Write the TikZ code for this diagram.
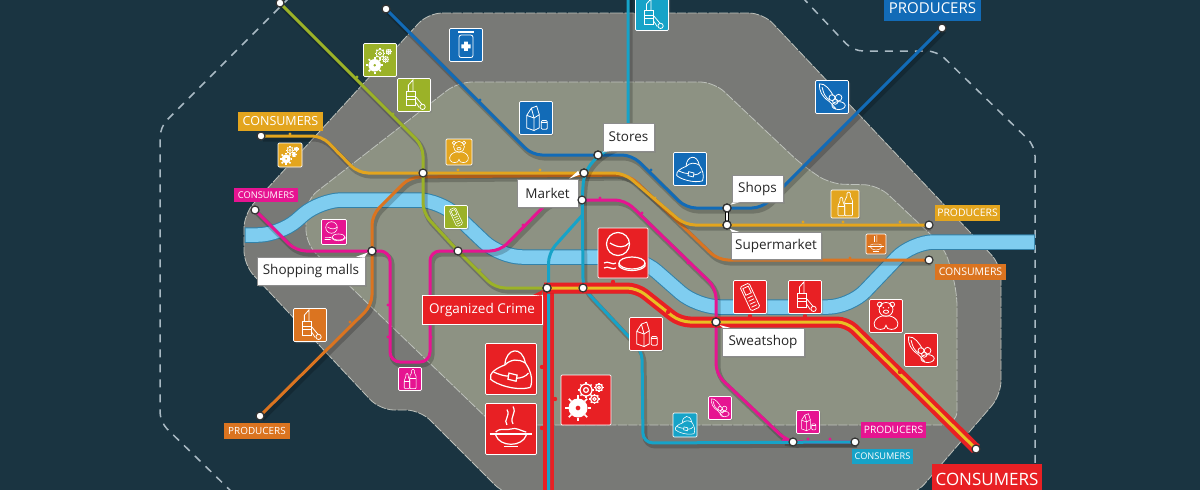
\documentclass[tikz,border=0pt]{standalone}
\usepackage{fontspec}
\setmainfont{Open Sans}
\usetikzlibrary{shadows}

\definecolor{night}{RGB}{26,52,65}
\definecolor{outerzone}{RGB}{120,121,118}
\definecolor{innerzone}{RGB}{141,146,131}
\definecolor{zoneedge}{RGB}{190,194,188}
\definecolor{fence}{RGB}{170,186,196}
\definecolor{river}{RGB}{127,205,240}
\definecolor{riveredge}{RGB}{50,130,170}
\definecolor{olive}{RGB}{155,178,40}
\definecolor{navy}{RGB}{18,107,183}
\definecolor{amber}{RGB}{227,165,30}
\definecolor{rust}{RGB}{219,116,32}
\definecolor{pink}{RGB}{230,20,145}
\definecolor{aqua}{RGB}{22,163,200}
\definecolor{crime}{RGB}{232,32,36}
\definecolor{gold}{RGB}{232,192,36}

\newcommand{\gearwheel}[3]{
  \draw (#1,#2) circle (#3) (#1,#2) circle (.4*#3);
  \foreach \a in {0,45,...,315} \draw[line width=1.4pt] (#1,#2) ++(\a:#3) -- ++(\a:.3*#3);
}
\newcommand{\bottleshape}[4]{
  \draw[rounded corners=1pt] (#1-#3,.42) -- (#1-#3,#2+.3) -- (#1-.4*#3,#2+.14) -- (#1-.4*#3,#2) -- (#1+.4*#3,#2)
    -- (#1+.4*#3,#2+.14) -- (#1+#3,#2+.3) -- (#1+#3,.42) -- cycle;
  \draw (#1-#3,#4) -- (#1+#3,#4);
}

\tikzset{
  metro/.style={line width=3pt,rounded corners=10pt,line join=round,
    preaction={draw=black,opacity=.2,line width=5pt,transform canvas={xshift=2pt,yshift=-3pt}}},
  station/.style={circle,fill=white,draw=black!80,line width=1.2pt,minimum size=8pt,inner sep=0pt},
  iconbox/.style={rounded corners=1.2pt,draw=white!75,line width=.7pt,inner sep=0pt,
    drop shadow={shadow xshift=1.5pt,shadow yshift=-1.5pt,opacity=.4}},
  callout/.style={fill=white,draw=black!45,line width=.5pt,inner sep=0pt,text=black!85,
    font=\fontsize{13.5}{16}\selectfont,drop shadow={shadow xshift=1.5pt,shadow yshift=-1.5pt,opacity=.35}},
  tag/.style={fill=#1,text=white,inner sep=0pt},
  pics/gears/.style={code={
    \fill[even odd rule] (-.16,.16) circle (.19) (-.16,.16) circle (.05);
    \foreach \a in {0,45,...,315} \draw[line width=1.6pt] (-.16,.16) ++(\a:.19) -- ++(\a:.07);
    \gearwheel{.0}{-.2}{.12}
    \gearwheel{.17}{-.02}{.08}
    \gearwheel{.26}{-.25}{.07}
  }},
  pics/lipstick/.style={code={
    \draw (-.24,-.1) rectangle (.04,.32);
    \draw (-.24,.04) -- (.04,.04) (-.24,.14) -- (.04,.14);
    \draw (-.17,-.1) -- (-.17,-.3) -- (-.03,-.46) -- (-.03,-.1);
    \draw (.04,.04) -- (.24,.28) (.04,.2) -- (.16,.38);
    \draw (.26,.36) circle (.08);
  }},
  pics/jar/.style={code={
    \fill (-.24,-.42) rectangle (.24,-.35);
    \draw[rounded corners=2pt] (-.21,-.3) rectangle (.21,.38);
    \fill (-.14,-.02) rectangle (.14,.1) (-.06,-.1) rectangle (.06,.18);
  }},
  pics/carton/.style={code={
    \draw (-.28,-.08) -- (-.06,.0) -- (-.06,.38) -- (-.28,.3) -- cycle;
    \draw (-.06,0) -- (.1,-.1) -- (.1,.3) -- (-.06,.38);
    \draw (-.28,-.08) -- (-.14,-.3) -- (.02,-.36) -- (.1,-.1) (-.14,-.3) -- (-.06,0);
    \draw[rounded corners=1pt] (.16,.08) rectangle (.34,.34);
    \draw (.16,.14) -- (.34,.14);
  }},
  pics/teddy/.style={code={
    \draw (-.19,-.35) circle (.07) (.19,-.35) circle (.07);
    \draw (0,-.2) circle (.21);
    \draw (0,-.13) ellipse (.08 and .05);
    \fill (-.08,-.25) circle (.02) (.08,-.25) circle (.02);
    \draw (-.05,.38) .. controls (-.2,.45) and (-.38,.38) .. (-.36,.22) .. controls (-.34,.08) and (-.2,.02) .. (-.12,.0)
      -- (.12,.0) .. controls (.2,.02) and (.34,.08) .. (.36,.22) .. controls (.38,.38) and (.2,.45) .. (.05,.38) -- (0,.28) -- cycle;
  }},
  pics/bag/.style={code={
    \draw (-.12,-.08) .. controls (-.1,-.42) and (.22,-.46) .. (.28,-.12) .. controls (.38,.02) and (.44,.2) .. (.38,.36);
    \draw (-.12,-.08) .. controls (-.28,-.02) and (-.44,.08) .. (-.4,.2) .. controls (-.3,.3) and (.1,.44) .. (.38,.36);
    \draw (-.12,-.08) .. controls (0,-.2) and (.15,-.2) .. (.28,-.12);
    \draw (-.04,.08) -- (.12,.12) -- (.1,.24) -- (-.06,.2) -- cycle;
    \draw (-.34,.06) .. controls (-.2,.12) and (-.12,.14) .. (-.04,.14) (.12,.18) .. controls (.2,.18) and (.3,.14) .. (.34,.08);
  }},
  pics/phone/.style={code={
    \begin{scope}[rotate=25]
      \draw[rounded corners=1.5pt] (-.15,-.4) rectangle (.15,.4);
      \draw (-.09,-.32) rectangle (.09,-.1);
      \draw (-.09,.0) -- (.09,.0) (-.09,.1) -- (.09,.1) (-.09,.2) -- (.09,.2) (-.09,.3) -- (.09,.3);
    \end{scope}
  }},
  pics/bottles/.style={code={
    \bottleshape{-.13}{-.24}{.12}{.1}
    \bottleshape{.13}{-.42}{.14}{-.02}
  }},
  pics/shoe/.style={code={
    \draw (-.38,-.4) .. controls (-.2,-.42) and (-.05,-.2) .. (.04,-.04);
    \draw (-.38,-.4) .. controls (-.4,-.2) and (-.3,.0) .. (-.1,.12) .. controls (.0,.2) and (.05,.3) .. (.12,.36);
    \draw (-.3,-.3) .. controls (-.26,-.1) and (-.2,.02) .. (-.06,.1);
    \draw (.0,.02) circle (.09) (.2,.02) circle (.1) (.1,.14) circle (.08);
    \draw (.2,.26) ellipse (.2 and .12);
  }},
  pics/bowl/.style={code={
    \draw (-.42,.1) -- (.42,.1);
    \draw (-.3,.12) .. controls (-.22,.36) and (.22,.36) .. (.3,.12);
    \draw (-.14,.34) -- (.14,.34);
    \draw (-.3,.06) .. controls (-.2,-.04) and (-.1,.04) .. (0,.0) .. controls (.1,-.04) and (.2,.04) .. (.3,.06);
    \draw (-.08,-.08) .. controls (-.16,-.18) and (0,-.26) .. (-.08,-.38);
    \draw (.04,-.1) .. controls (-.04,-.24) and (.12,-.3) .. (.04,-.44);
  }},
  pics/compact/.style={code={
    \draw (-.1,-.18) circle (.23);
    \draw (-.26,-.2) .. controls (-.1,-.1) and (.04,-.1) .. (.12,-.2);
    \draw (.18,.2) ellipse (.26 and .12);
    \draw (-.08,.2) -- (-.08,.26) .. controls (0,.38) and (.36,.38) .. (.44,.26) -- (.44,.2);
    \draw (-.38,.2) .. controls (-.3,.14) and (-.2,.26) .. (-.14,.2);
    \draw (-.38,.3) .. controls (-.3,.24) and (-.2,.36) .. (-.14,.3);
  }}
}

\begin{document}
\begin{tikzpicture}[x=1pt,y=-1pt]
\useasboundingbox (0,0) rectangle (1200,490);
\clip (0,0) rectangle (1200,490);
\fill[night] (0,0) rectangle (1200,490);

% zones
\draw[fill=outerzone,draw=zoneedge,line width=.8pt,dash pattern=on 9pt off 1.5pt,rounded corners=14pt]
  (600,13) -- (763,13) -- (1001,265) -- (1001,395) -- (915,495) -- (505,495) -- (420,410) -- (380,410)
  -- (244,265) -- (244,214) -- (428,13) -- cycle;
\draw[fill=innerzone,draw=zoneedge,line width=.8pt,dash pattern=on 9pt off 1.5pt,rounded corners=14pt]
  (600,82) -- (714,82) -- (802,165) -- (830,184) -- (878,185) -- (945,248) -- (957,292) -- (957,425)
  -- (494,425) -- (306,244) -- (306,200) -- (458,82) -- cycle;

% fence
\draw[fence,line width=1.5pt,dash pattern=on 8pt off 7pt,rounded corners=10pt]
  (290,-3) -- (160,127) -- (160,422) -- (235,495);
\draw[fence,line width=1.5pt,dash pattern=on 8pt off 7pt,rounded corners=10pt]
  (802,-3) -- (853,51) -- (937,51) -- (1035,146) -- (1035,495);

% river
\draw[riveredge,line width=15.5pt,rounded corners=22pt,
  preaction={draw=black,opacity=.2,transform canvas={xshift=2pt,yshift=-3pt}}]
  (244.5,235) -- (280,235) -- (320,200) -- (440,200) -- (500,257) -- (640,257) -- (697,307) -- (850,307) -- (912,242) -- (1035,242);
\draw[river,line width=13.5pt,rounded corners=22pt]
  (245.5,235) -- (280,235) -- (320,200) -- (440,200) -- (500,257) -- (640,257) -- (697,307) -- (850,307) -- (912,242) -- (1034,242);

% station positions
\coordinate (cOlive) at (280,3);
\coordinate (cNavy) at (386,9);
\coordinate (cNavyEnd) at (942,28);
\coordinate (cAmber) at (261,136);
\coordinate (cPink) at (255,210);
\coordinate (cRust) at (260,416);
\coordinate (cOliveHub) at (423,173);
\coordinate (cMarket) at (584,173);
\coordinate (cStores) at (598,155);
\coordinate (cHub) at (582,200);
\coordinate (cShops) at (727,208);
\coordinate (cSuper) at (727,225);
\coordinate (cAmberEnd) at (929,225);
\coordinate (cRustEnd) at (929,260);
\coordinate (cMalls) at (372,251);
\coordinate (cPinkHub) at (458,251);
\coordinate (cCrime) at (547,288);
\coordinate (cCross) at (583,288);
\coordinate (cSweat) at (716,322);
\coordinate (cSouth) at (793,442);
\coordinate (cSouthEnd) at (855,442);
\coordinate (cRedEnd) at (976,449);

% lines
\draw[metro,rust] (cRust) -- (372,305) -- (372,215) -- (410,177) -- (629,175) -- (718,260) -- (cRustEnd);
\draw[metro,amber] (cAmber) -- (322,136) -- (358,173) -- (cOliveHub) -- (cMarket) -- (624,173) -- (685,225) -- (cSuper) -- (cAmberEnd);
\draw[metro,navy] (cNavy) -- (532,155) -- (cStores) -- (632,155) -- (686,208) -- (cShops) -- (762,208) -- (cNavyEnd);
\draw[metro,olive] (cOlive) -- (423,146) -- (cOliveHub) -- (423,213) -- (cPinkHub) -- (495,288) -- (cCrime);
\draw[metro,pink] (cPink) -- (296,251) -- (cMalls) -- (390,251) -- (390,362) -- (430,362) -- (430,251) -- (cPinkHub)
  -- (500,251) -- (550,200) -- (cHub) -- (625,200) -- (716,288) -- (cSweat) -- (716,374) -- (787,441) -- (cSouth) -- (cSouthEnd);
\draw[metro,crime,line width=10.5pt] (548.5,288) -- (548.5,495);
\draw[metro,aqua] (628,-5) -- (628,140) -- (cStores) -- (cMarket) -- (cHub) -- (582.5,215) -- (cCross) -- (630,338) -- (642,350) -- (643,443) -- (cSouthEnd);
\draw[aqua,line width=3pt,rounded corners=10pt] (582.5,215) -- (548.5,253) -- (548.5,495);
\draw[metro,crime,line width=11pt] (544,288) -- (637,288) -- (680,322) -- (847,322) -- (cRedEnd);
\draw[gold,line width=3pt,rounded corners=10pt] (cCrime) -- (637,288) -- (680,322) -- (847,322) -- (cRedEnd);
\draw[black,line width=4pt] (cShops) -- (cSuper);
\draw[white,line width=2pt] (cShops) -- (cSuper);

% ticks
\foreach \tx/\ty in {357/77,393/114,480/270} \fill[olive] (\tx,\ty) circle (1.6);
\foreach \tx/\ty in {290/134,338/153,458/170,540/170,655/198,803/222,843/222,900/222} \fill[amber] (\tx,\ty) circle (1.6);
\foreach \tx/\ty in {480/100,651/170,812/157} \fill[navy] (\tx,\ty) circle (1.6);
\foreach \tx/\ty in {350/322,850/258} \fill[rust] (\tx,\ty) circle (1.6);
\foreach \tx/\ty in {523/225,600/198,642/213,388/305,388/337,431/337,688/263,808/439,830/439} \fill[pink] (\tx,\ty) circle (1.6);
\foreach \tx/\ty in {613/282,668/312,750/316,805/316,872/342,900/372,542/367,555/399,542/428} \fill[crime] (\tx,\ty) circle (2.2);

% icons
\foreach \ix/\iy/\isize/\icolor/\iname in {
  380/60/33/olive/gears, 414/95/33/olive/lipstick, 466/45/33/navy/jar, 652/14/33/aqua/lipstick,
  536/118/33/navy/carton, 459/152/26/amber/teddy, 690/169/33/navy/bag, 832/97/33/navy/shoe,
  290/155/24/amber/gears, 456/217/23/olive/phone, 334/232/25/pink/compact, 623/253/50/crime/compact,
  845/204/28/amber/bottles, 876/244/20/rust/bowl, 750/297/33/crime/phone, 805/297/33/crime/lipstick,
  886/316/33/crime/teddy, 921/350/33/crime/shoe, 646/334/33/crime/carton, 310/325/33/rust/lipstick,
  410/379/23/pink/bottles, 511/369/51/crime/bag, 511/429/51/crime/bowl, 586/400/50/crime/gears,
  685/425/24/aqua/bag, 720/408/23/pink/shoe, 808/422/23/pink/carton}
{
  \node[iconbox,fill=\icolor,minimum size=\isize pt] (icon\ix) at (\ix,\iy) {};
  \pic[white,scale=\isize,line width=\isize*.024pt] at (\ix,\iy) {\iname};
}

% callouts
\node[callout,minimum width=51pt,minimum height=28pt] (lStores) at (628.5,137) {Stores};
\node[callout,minimum width=61pt,minimum height=28pt] (lMarket) at (547.5,193) {Market};
\node[callout,minimum width=51pt,minimum height=27pt] (lShops) at (757.5,188.5) {Shops};
\node[callout,minimum width=90pt,minimum height=27pt] (lSuper) at (776,245.5) {Supermarket};
\node[callout,minimum width=108pt,minimum height=28pt] (lMalls) at (311,271) {Shopping malls};
\node[callout,minimum width=82pt,minimum height=28pt] (lSweat) at (763,342) {Sweatshop};
\node[callout,fill=crime,draw=white!70,text=white,minimum width=120pt,minimum height=29pt] (lCrime) at (482,309.5) {Organized Crime};

% stations
\foreach \st in {cOlive,cNavy,cNavyEnd,cAmber,cPink,cRust,cOliveHub,cMarket,cStores,cHub,cShops,cSuper,cAmberEnd,cRustEnd,cMalls,cPinkHub,cCrime,cCross,cSweat,cSouth,cSouthEnd,cRedEnd}
  \node[station] (st\st) at (\st) {};

% callout tails
\fill[white] (stcStores) -- ([xshift=1pt]lStores.south west) -- ([xshift=8pt]lStores.south west) -- cycle;
\fill[white] (stcMarket) -- ([xshift=-9pt]lMarket.north east) -- ([yshift=8pt]lMarket.north east) -- cycle;
\fill[white] (stcShops) -- ([xshift=1pt]lShops.south west) -- ([xshift=8pt]lShops.south west) -- cycle;
\fill[white] (stcSuper) -- ([xshift=1pt]lSuper.north west) -- ([xshift=8pt]lSuper.north west) -- cycle;
\fill[white] (stcMalls) -- ([xshift=-9pt]lMalls.north east) -- ([yshift=-1pt,xshift=-1pt]lMalls.north east) -- cycle;
\fill[white] (stcSweat) -- ([xshift=1pt]lSweat.north west) -- ([xshift=8pt]lSweat.north west) -- cycle;
\fill[crime] (stcCrime) -- ([xshift=-9pt]lCrime.north east) -- ([yshift=-1pt,xshift=-1pt]lCrime.north east) -- cycle;
\foreach \st in {cMarket,cStores,cShops,cSuper,cMalls,cSweat,cCrime}
  \node[station] at (\st) {};

% tags
\node[tag=amber,minimum width=85pt,minimum height=19pt,font=\fontsize{12.5}{14}\selectfont] (tAmber) at (280.5,121.5) {CONSUMERS};
\node[tag=pink,minimum width=64pt,minimum height=14pt,font=\fontsize{9.3}{10}\selectfont] (tPink) at (266,195) {CONSUMERS};
\node[tag=navy,minimum width=97pt,minimum height=26pt,font=\fontsize{15}{17}\selectfont] (tNavy) at (932.5,8) {PRODUCERS};
\node[tag=amber,minimum width=65pt,minimum height=16pt,font=\fontsize{10.4}{12}\selectfont] (tAmberEnd) at (967.5,213) {PRODUCERS};
\node[tag=rust,minimum width=71pt,minimum height=16pt,font=\fontsize{10.5}{12}\selectfont] (tRustEnd) at (970.5,272) {CONSUMERS};
\node[tag=rust,minimum width=66pt,minimum height=16pt,font=\fontsize{9.9}{11}\selectfont] (tRust) at (257,431) {PRODUCERS};
\node[tag=pink,minimum width=65pt,minimum height=16pt,font=\fontsize{10.2}{12}\selectfont] (tPinkEnd) at (893.5,430) {PRODUCERS};
\node[tag=aqua,minimum width=61pt,minimum height=15pt,font=\fontsize{9.2}{10}\selectfont] (tAqua) at (882.5,456.5) {CONSUMERS};
\node[tag=crime,minimum width=110pt,minimum height=31pt,font=\fontsize{17}{19}\selectfont] (tCrime) at (987,479.5) {CONSUMERS};
\end{tikzpicture}
\end{document}
